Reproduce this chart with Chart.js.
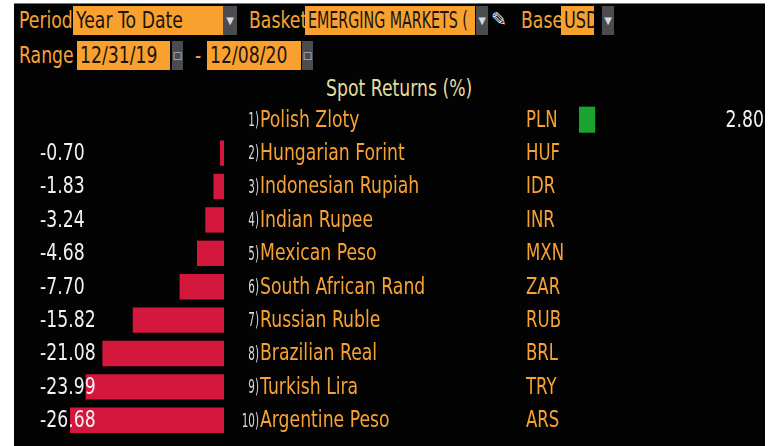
<!DOCTYPE html>
<html lang="en">

<head>
  <meta charset="UTF-8">
  <script src="https://cdn.jsdelivr.net/npm/chart.js"></script>
  <title>Spot Returns</title>
  <style>
    html, body { margin: 0; padding: 0; background: #fff; }
    body { width: 775px; height: 446px; position: relative; overflow: hidden;
      font-family: "DejaVu Sans", sans-serif; }
    #panel { position: absolute; left: 14px; top: 3px; width: 751px; height: 443px; background: #030303;
      border-top: 1px solid #777; }
    .t { position: absolute; font-size: 23px; line-height: 29px; white-space: nowrap; overflow: hidden; }
    .t span { display: inline-block; transform: scaleX(0.75); transform-origin: 0 50%; }
    .lbl { color: #f7a233; overflow: visible; }
    .box { background: #f9a12f; color: #1c1410; padding-left: 3px; box-sizing: border-box; }
    .btn { background: #4a4c50; color: #d8d8d8; font-size: 10px; text-align: center; }
    #chart-wrap { position: absolute; left: 14px; top: 103px; width: 751px; height: 334px; }
  </style>
</head>

<body>
  <div id="panel"></div>

  <div class="t lbl" style="left:19px;top:6px"><span>Period</span></div>
  <div class="t box" style="left:73px;top:6px;width:150px"><span>Year To Date</span></div>
  <div class="t btn" style="left:223px;top:6px;width:14px">&#9660;</div>
  <div class="t lbl" style="left:249px;top:6px"><span>Basket</span></div>
  <div class="t box" style="left:305px;top:6px;width:170px"><span style="transform:scaleX(0.62)">EMERGING MARKETS (</span></div>
  <div class="t btn" style="left:476px;top:6px;width:12px">&#9660;</div>
  <div class="t" style="left:491px;top:5px;color:#eee;font-size:19px">&#9998;</div>
  <div class="t lbl" style="left:521px;top:6px"><span>Base</span></div>
  <div class="t box" style="left:561px;top:6px;width:33px"><span style="transform:scaleX(0.7)">USD</span></div>
  <div class="t btn" style="left:602px;top:6px;width:12px">&#9660;</div>

  <div class="t lbl" style="left:19px;top:41px"><span>Range</span></div>
  <div class="t box" style="left:77px;top:41px;width:93px"><span>12/31/19</span></div>
  <div class="t btn" style="left:172px;top:41px;width:11px">&#9633;</div>
  <div class="t lbl" style="left:195px;top:41px"><span>-</span></div>
  <div class="t box" style="left:207px;top:41px;width:94px"><span>12/08/20</span></div>
  <div class="t btn" style="left:302px;top:41px;width:11px">&#9633;</div>

  <div class="t" style="left:326px;top:74px;color:#e4dd9c;overflow:visible"><span>Spot Returns (%)</span></div>

  <div id="chart-wrap"><canvas id="chart"></canvas></div>

<script>
  const currencies = ['Polish Zloty', 'Hungarian Forint', 'Indonesian Rupiah', 'Indian Rupee', 'Mexican Peso',
    'South African Rand', 'Russian Ruble', 'Brazilian Real', 'Turkish Lira', 'Argentine Peso']
  const codes = ['PLN', 'HUF', 'IDR', 'INR', 'MXN', 'ZAR', 'RUB', 'BRL', 'TRY', 'ARS']
  const returns = [2.80, -0.70, -1.83, -3.24, -4.68, -7.70, -15.82, -21.08, -23.99, -26.68]

  const negValues = returns.map(v => v < 0 ? v : null)
  const posValues = returns.map(v => v > 0 ? v : null)

  // layout (page px); the chart canvas starts at x=14
  const left0 = 14
  const width = 751
  const negZero = 224
  const posZero = 579
  const pxPerUnit = 5.77

  // narrow terminal-style text: draw with a horizontal squeeze
  function squeezed(ctx, text, x, y, size, color, align, sx) {
    ctx.save()
    ctx.font = size + 'px "DejaVu Sans", sans-serif'
    ctx.fillStyle = color
    ctx.textAlign = align
    ctx.translate(x - left0, y)
    ctx.scale(sx, 1)
    ctx.fillText(text, 0, 0)
    ctx.restore()
  }

  const rowText = {
    id: 'rowText',
    afterDatasetsDraw(chart) {
      const ctx = chart.ctx
      const y = chart.scales.y
      ctx.save()
      ctx.textBaseline = 'middle'
      returns.forEach((v, i) => {
        const py = y.getPixelForValue(i) + 1
        if (v < 0) {
          squeezed(ctx, v.toFixed(2), 40, py, 23, '#f2f2f2', 'left', 0.75)
        } else {
          squeezed(ctx, v.toFixed(2), 764, py, 23, '#f2f2f2', 'right', 0.75)
        }
        squeezed(ctx, (i + 1) + ')', 259, py, 20, '#d6d8e2', 'right', 0.52)
        squeezed(ctx, currencies[i], 260, py, 23, '#f7a233', 'left', 0.75)
        squeezed(ctx, codes[i], 526, py, 23, '#f7a233', 'left', 0.72)
      })
      ctx.restore()
    }
  }

  new Chart(document.getElementById('chart'), {
    type: 'bar',
    data: {
      labels: currencies,
      datasets: [{
        data: negValues,
        xAxisID: 'xNeg',
        backgroundColor: '#d3173d',
        categoryPercentage: 1,
        barPercentage: 0.76,
        grouped: false,
      }, {
        data: posValues,
        xAxisID: 'xPos',
        backgroundColor: '#1ba332',
        categoryPercentage: 1,
        barPercentage: 0.78,
        grouped: false,
      }]
    },
    options: {
      indexAxis: 'y',
      responsive: true,
      maintainAspectRatio: false,
      animation: false,
      layout: { padding: 0 },
      plugins: { legend: false, tooltip: { enabled: false } },
      scales: {
        y: { display: false },
        xNeg: {
          display: false,
          min: -(negZero - left0) / pxPerUnit,
          max: (left0 + width - negZero) / pxPerUnit
        },
        xPos: {
          display: false,
          min: -(posZero - left0) / pxPerUnit,
          max: (left0 + width - posZero) / pxPerUnit
        }
      }
    },
    plugins: [rowText]
  })
</script>
</body>

</html>
